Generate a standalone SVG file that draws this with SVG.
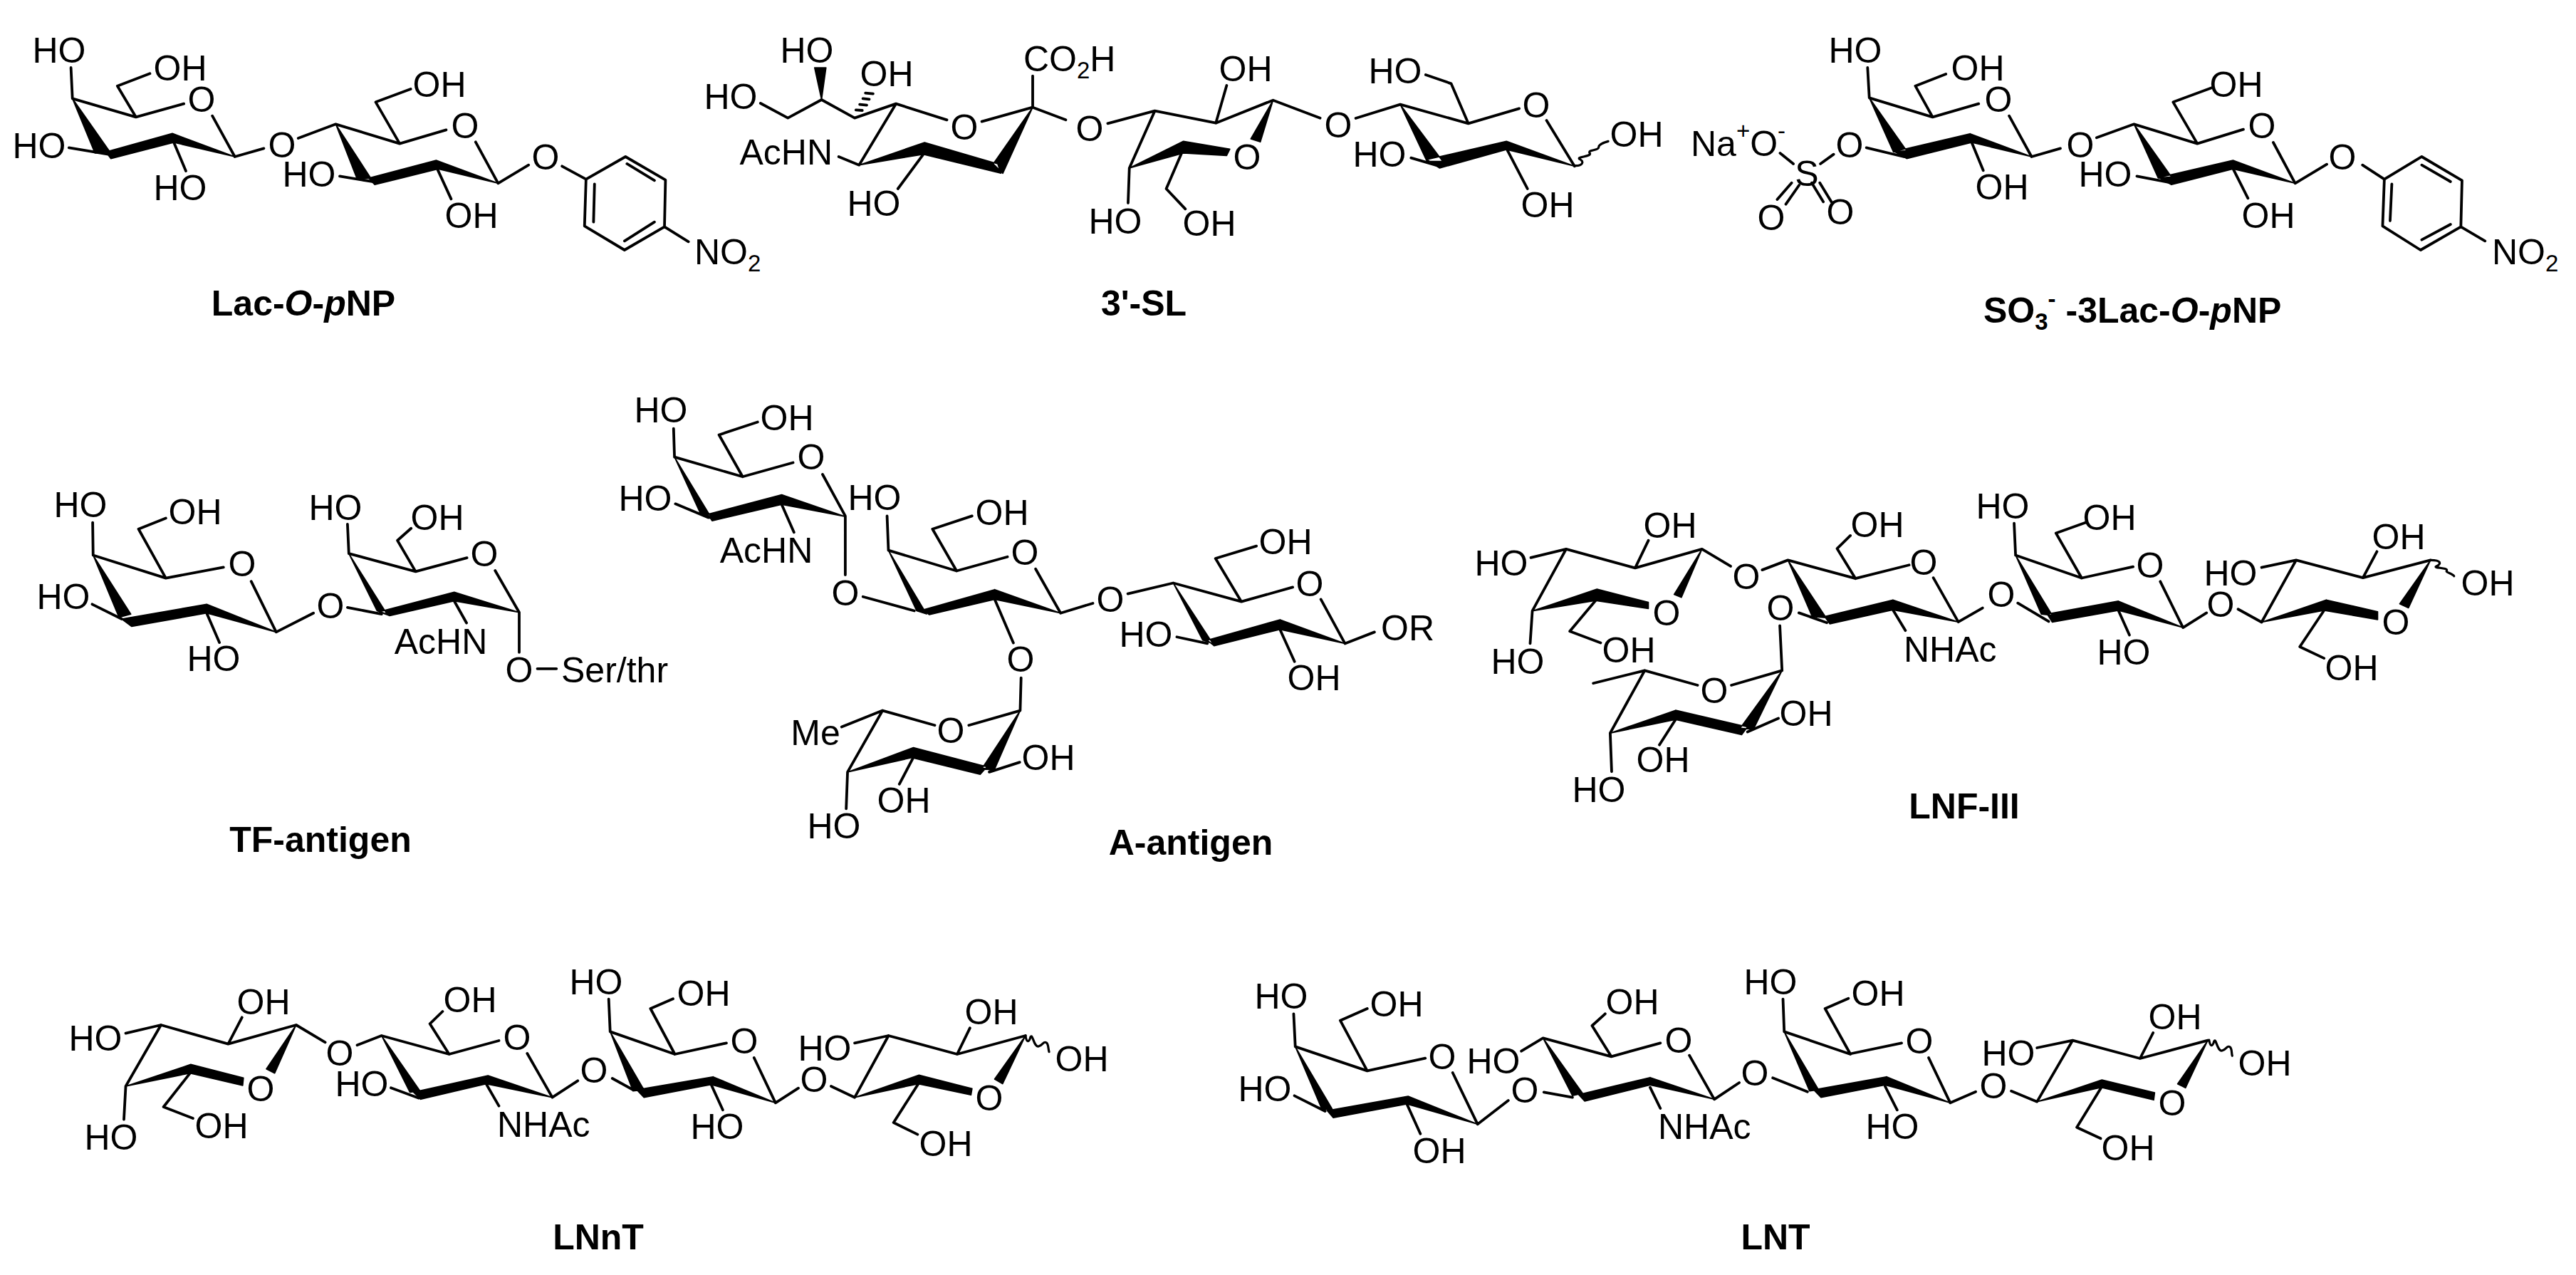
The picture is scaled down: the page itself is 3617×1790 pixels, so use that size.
<svg xmlns="http://www.w3.org/2000/svg" width="3617" height="1790" viewBox="0 0 3617 1790">
<style>
text{font-family:"Liberation Sans",Arial,sans-serif;font-size:50px;fill:#000;text-anchor:middle}
.s{text-anchor:start}
.e{text-anchor:end}
.c{font-weight:bold}
.u{font-size:33px}
.b{fill:none;stroke:#000;stroke-width:3.8;vector-effect:non-scaling-stroke;stroke-linejoin:round;stroke-linecap:round}
.v{fill:none;stroke:#000;stroke-width:3.2;vector-effect:non-scaling-stroke;stroke-linecap:round}
.w{fill:#000;stroke:#000;stroke-width:1.6;vector-effect:non-scaling-stroke;stroke-linejoin:round}
</style>
<rect width="3617" height="1790" fill="#fff"/>

<g id="lac-o-pnp">
<g id="lac-bonds" transform="scale(0.7015 0.33333)">
<path class="b" d="M142 285L145 415L272 493L235 362L300 310M272 493L368 437M425 488L470 660L528 625M348 600L372 720M217 650L138 622M597 582L672 523L800 605L752 430L822 375M800 605L893 547M952 598L997 772L1058 695M680 742L745 765M875 710L903 838M1125 700L1173 755L1252 660L1332 758L1330 955L1250 1053L1170 952L1173 755M1255 690L1310 760M1190 775L1188 935M1310 935L1250 1015M1330 955L1378 1018"/>
<path class="w" d="M145 415L190 645L220 640ZM212 640L345 562L348 600L222 668ZM345 562L348 600L470 660ZM672 523L715 755L742 750ZM738 750L873 675L877 712L750 778ZM873 675L877 712L997 772Z"/>
</g>
<text x="83" y="88">HO</text><text x="253" y="113">OH</text><text x="283" y="157">O</text><text x="55" y="222">HO</text><text x="253" y="281">HO</text><text x="396" y="221">O</text><text x="617" y="136">OH</text><text x="653" y="194">O</text><text x="434" y="262">HO</text><text x="662" y="320">OH</text><text x="766" y="238">O</text>
<text class="s" x="975" y="371">NO<tspan class="u" dy="10">2</tspan></text>
<text class="c" x="426" y="443">Lac-<tspan font-style="italic">O</tspan>-<tspan font-style="italic">p</tspan>NP</text>
</g>

<g id="sl-3">
<g id="sl-bonds" transform="translate(950 0) scale(0.8929 0.33333)">
<path class="b" d="M132 435L175 497L228 420L280 497L345 437L425 505M480 512L560 452L560 320M560 452L612 505M678 520L752 467L848 518L865 360M848 518L938 422L1012 497M1068 498L1138 440L1245 520L1218 352L1178 315M1245 520L1325 457M1368 507L1412 700M1305 625L1338 795M1200 700L1155 665M345 437L287 695L255 660M388 650L348 795M752 467L712 708L710 855M795 640L770 795L800 880M282 463L292 465M288 440L299 443M293 415L303 418M297 392L309 395"/>
<path class="v" d="M1412 698C1425 700 1428 680 1420 670C1414 660 1440 660 1436 645C1432 630 1450 635 1450 620C1450 610 1458 600 1465 595"/>
<path class="w" d="M228 420L217 285L235 285ZM287 695L390 600L388 650ZM390 600L505 690L510 730L388 650ZM560 452L498 690L513 730ZM712 708L797 595L797 645ZM797 595L870 628L865 655L797 645ZM938 422L903 585L918 598ZM1138 440L1180 680L1205 680ZM1180 672L1305 595L1305 630L1200 708ZM1305 595L1305 630L1412 700Z"/>
</g>
<text x="1026" y="153">HO</text><text x="1133" y="88">HO</text><text x="1245" y="121">OH</text><text class="e" x="1169" y="231">AcHN</text><text x="1227" y="303">HO</text><text x="1354" y="196">O</text>
<text class="s" x="1437" y="100">CO<tspan class="u" dy="10">2</tspan><tspan dy="-10">H</tspan></text>
<text x="1530" y="198">O</text><text x="1749" y="114">OH</text><text x="1959" y="117">HO</text><text x="2157" y="165">O</text><text x="2298" y="206">OH</text><text x="1937" y="234">HO</text><text x="1879" y="193">O</text><text x="2173" y="305">OH</text><text x="1566" y="328">HO</text><text x="1698" y="331">OH</text><text x="1751" y="238">O</text>
<text class="c" x="1606" y="443">3'-SL</text>
</g>

<g id="so3-lac-o-pnp">
<g id="so3-bonds" transform="translate(2350 0) scale(0.808 0.33333)">
<path class="b" d="M337 285L340 412L450 493L420 362L473 312M450 493L530 437M583 488L622 660L672 625M518 600L538 718M335 622L400 660M255 690L278 650M185 645L208 690M205 770L180 840M218 780L195 860M240 770L260 850M254 770L274 850M735 580L800 523L910 605L868 430L935 370M910 605L990 545M1042 600L1080 772L1135 692M972 710L998 835M805 742L865 770M1197 695L1235 755L1300 660L1370 760L1368 955L1298 1053L1232 952L1235 755M1300 695L1350 765M1248 775L1245 930M1350 945L1300 1010M1368 955L1410 1015"/>
<path class="w" d="M340 412L382 640L405 635ZM383 638L515 563L518 600L405 668ZM515 563L518 600L622 660ZM800 523L842 750L865 745ZM843 748L972 675L972 712L865 778ZM972 675L972 712L1080 772Z"/>
</g>
<text x="2605" y="88">HO</text><text x="2777" y="113">OH</text><text x="2806" y="157">O</text><text x="2597" y="221">O</text><text x="2811" y="280">OH</text><text x="2921" y="221">O</text><text x="3140" y="136">OH</text><text x="3176" y="194">O</text><text x="2956" y="262">HO</text><text x="3185" y="320">OH</text><text x="3289" y="238">O</text>
<text class="s" x="3499" y="371">NO<tspan class="u" dy="10">2</tspan></text>
<text x="2537" y="261">S</text><text x="2487" y="323">O</text><text x="2584" y="315">O</text>
<text class="s" x="2374" y="219">Na<tspan class="u" dy="-24">+</tspan><tspan dy="24">O</tspan><tspan class="u" dy="-24">-</tspan></text>
<text class="c s" x="2785" y="453">SO<tspan class="u" dy="10">3</tspan><tspan class="u" dy="-32">-</tspan><tspan dy="22"> -3Lac-</tspan><tspan font-style="italic">O</tspan>-<tspan font-style="italic">p</tspan>NP</text>
</g>

<g id="tf-antigen">
<g id="tf-bonds" transform="translate(0 520) scale(0.6378 0.4592)">
<path class="b" d="M204 465L205 565L365 635L305 485L365 452M365 635L492 602M553 645L608 800L690 742M203 715L268 760M455 742L483 832M765 725L840 745M765 470L768 560L915 615L875 520L905 483M915 615L1028 573M1090 612L1143 740L1143 862M1000 705L1027 772M1183 912L1225 912"/>
<path class="w" d="M205 565L262 755L288 745ZM268 760L455 715L455 742L290 783ZM455 715L455 742L608 800ZM768 560L830 735L852 745ZM835 738L1000 678L1000 705L858 750ZM1000 678L1000 705L1143 740Z"/>
</g>
<text x="113" y="726">HO</text><text x="274" y="736">OH</text><text x="340" y="809">O</text><text x="89" y="855">HO</text><text x="300" y="942">HO</text><text x="464" y="868">O</text><text x="471" y="730">HO</text><text x="614" y="744">OH</text><text x="680" y="795">O</text><text x="619" y="918">AcHN</text><text x="729" y="958">O</text><text class="s" x="788" y="958">Ser/thr</text>
<text class="c" x="450" y="1196">TF-antigen</text>
</g>

<g id="a-antigen">
<g id="a-bonds" transform="translate(1000 520) scale(0.6378 0.4592)">
<path class="b" d="M-85 178L-83 265L67 325L15 197L100 158M67 325L178 282M243 318L293 445L293 625M153 410L180 495M-81 408L-8 450M332 692L445 735M385 445L388 550L538 613L485 485L572 445M538 613L650 570M712 607L767 742L838 712M622 700L663 833M680 940L678 1040L565 1085M915 683L1015 650L1165 707L1108 575L1198 537M1165 707L1278 663M1340 700L1393 835L1458 800M1023 815L1090 835M1250 792L1282 890M490 1085L375 1040L285 1090M375 1040L298 1228L295 1340M610 1228L677 1198M443 1183L412 1265"/>
<path class="w" d="M-83 265L-25 440L0 455ZM-10 440L153 380L153 410L0 460ZM153 380L153 410L293 447ZM388 550L450 735L472 745ZM465 732L622 670L622 700L478 747ZM622 670L622 700L767 742ZM1015 650L1080 825L1102 835ZM1090 825L1250 762L1250 792L1105 842ZM1250 762L1250 792L1393 835ZM298 1228L443 1153L443 1183ZM443 1153L605 1212L590 1235L443 1185ZM678 1040L595 1215L620 1225Z"/>
</g>
<text x="928" y="593">HO</text><text x="906" y="717">HO</text><text x="1105" y="604">OH</text><text x="1139" y="659">O</text><text x="1076" y="790">AcHN</text><text x="1228" y="716">HO</text><text x="1407" y="737">OH</text><text x="1439" y="793">O</text><text x="1187" y="850">O</text><text x="1559" y="859">O</text><text x="1805" y="778">OH</text><text x="1839" y="837">O</text><text x="1609" y="908">HO</text><text class="s" x="1939" y="899">OR</text><text x="1845" y="969">OH</text><text x="1433" y="943">O</text><text x="1145" y="1046">Me</text><text x="1335" y="1043">O</text><text x="1472" y="1081">OH</text><text x="1269" y="1141">OH</text><text x="1171" y="1177">HO</text>
<text class="c" x="1672" y="1200">A-antigen</text>
</g>

<g id="lnf-iii">
<g id="lnf-bonds" transform="translate(2000 640) scale(1.0312 0.3444)">
<path class="b" d="M145 415L193 380L287 457L305 345M287 457L378 380L417 450M193 380L147 632L144 765M233 590L198 715L240 762M460 465L495 425L587 500L562 378L580 325M587 500L660 445M693 497L727 677L760 620M510 640L548 680M638 628L655 712M484 692L487 875L418 935M372 935L300 875L230 927M300 875L253 1130L255 1287M440 1125L482 1070M342 1075L320 1178M805 405L803 275M805 405L895 498L860 315L900 272M895 498L965 452M1002 512L1033 700L1065 640M808 600L850 675M945 630L960 730M1108 625L1140 678L1187 425L1140 455M1187 425L1278 497L1297 390M1278 497L1370 425M1225 630L1192 778L1225 825"/>
<path class="v" d="M1370 425C1385 425 1385 440 1378 450C1372 458 1395 455 1392 468C1390 475 1400 480 1402 490"/>
<path class="w" d="M378 380L340 565L350 577ZM147 632L235 543L233 590ZM235 543L305 597L305 623L233 590ZM495 425L528 655L547 660ZM545 655L638 587L638 628L552 685ZM638 587L638 628L727 677ZM253 1130L342 1037L342 1075ZM342 1037L440 1105L432 1137L342 1075ZM487 875L430 1110L448 1115ZM805 405L840 645L855 650ZM848 645L945 592L945 630L855 678ZM945 592L945 630L1033 700ZM1370 425L1328 603L1340 620ZM1140 678L1228 587L1225 630ZM1228 587L1298 635L1298 668L1225 630Z"/>
</g>
<text x="2108" y="808">HO</text><text x="2345" y="755">OH</text><text x="2452" y="827">O</text><text x="2340" y="878">O</text><text x="2287" y="930">OH</text><text x="2131" y="946">HO</text><text x="2500" y="871">O</text><text x="2636" y="754">OH</text><text x="2701" y="807">O</text><text class="s" x="2673" y="929">NHAc</text><text x="2810" y="852">O</text><text x="2407" y="987">O</text><text x="2536" y="1019">OH</text><text x="2335" y="1084">OH</text><text x="2245" y="1126">HO</text><text x="2812" y="728">HO</text><text x="2962" y="744">OH</text><text x="3019" y="811">O</text><text x="2982" y="933">HO</text><text x="3118" y="866">O</text><text x="3132" y="822">HO</text><text x="3368" y="771">OH</text><text x="3493" y="836">OH</text><text x="3364" y="891">O</text><text x="3302" y="955">OH</text>
<text class="c" x="2758" y="1149">LNF-III</text>
</g>

<g id="lnnt">
<g id="lnnt-bonds-a" transform="translate(50 1330) scale(0.5102 0.33333)">
<path class="b" d="M248 362L345 327L530 407L568 295M530 407L717 327L797 400M345 327L248 585L243 725M425 530L352 672L433 720M885 412L952 372L1138 450L1085 322L1120 270M1138 450L1275 393M1353 447L1422 632L1492 562M978 592L1055 635M1240 575L1275 668"/>
<path class="w" d="M717 327L635 512L658 530ZM248 585L427 493L425 530ZM427 493L572 550L570 582L425 530ZM952 372L1030 610L1058 605ZM1040 610L1245 540L1240 575L1060 640ZM1245 540L1240 575L1422 632Z"/>
</g>
<g id="lnnt-bonds-b" transform="translate(820 1330) scale(0.5102 0.33333)">
<path class="b" d="M78 552L135 600M68 218L72 355L250 450L183 258L245 217M250 450L392 403M468 465L527 655L590 593M350 578L382 685M680 585L745 632L838 372L745 403M838 372L1027 450L1062 340M1027 450L1215 372M920 575L852 738L918 788"/>
<path class="v" d="M1215 372C1218 402 1225 402 1229 377C1235 362 1238 422 1251 417C1264 412 1264 392 1273 402C1279 410 1277 427 1280 440"/>
<path class="w" d="M72 355L135 605L165 600ZM145 600L355 545L350 578L165 632ZM355 545L350 578L527 655ZM1215 372L1130 555L1152 575ZM745 632L922 538L920 575ZM922 538L1068 595L1065 622L920 575Z"/>
</g>
<text x="134" y="1475">HO</text><text x="370" y="1424">OH</text><text x="366" y="1546">O</text><text x="311" y="1598">OH</text><text x="156" y="1614">HO</text><text x="477" y="1496">O</text><text x="508" y="1539">HO</text><text x="660" y="1421">OH</text><text x="726" y="1474">O</text><text class="s" x="698" y="1596">NHAc</text><text x="834" y="1520">O</text><text x="837" y="1396">HO</text><text x="988" y="1412">OH</text><text x="1045" y="1479">O</text><text x="1007" y="1599">HO</text><text x="1143" y="1533">O</text><text x="1158" y="1489">HO</text><text x="1392" y="1438">OH</text><text x="1519" y="1504">OH</text><text x="1389" y="1559">O</text><text x="1328" y="1623">OH</text>
<text class="c" x="840" y="1754">LNnT</text>
</g>

<g id="lnt">
<g id="lnt-bonds-a" transform="translate(1720 1330) scale(0.574 0.33333)">
<path class="b" d="M168 280L172 418L348 520L282 308L348 258M348 520L490 467M557 528L618 745L693 645M170 625L245 690M445 660L478 785M725 437L778 382L945 460L898 330L930 280M780 610L850 632M945 460L1065 403M1136 455L1197 640L1258 570M1040 590L1065 678M1340 550L1425 608M1365 218L1368 355L1530 450L1468 258L1525 215"/>
<path class="w" d="M172 418L238 685L262 680ZM250 688L448 627L445 660L265 718ZM448 627L445 660L618 745ZM778 382L850 625L875 615ZM865 620L1040 548L1040 580L880 648ZM1040 548L1040 580L1197 640ZM1368 355L1430 605L1452 600ZM1440 600L1618 545L1615 580L1458 632Z"/>
</g>
<g id="lnt-bonds-b" transform="translate(2600 1330) scale(0.4464 0.33333)">
<path class="b" d="M0 447L157 403M242 465L310 655L390 608M105 585L143 685M502 605L583 650L695 392L583 423M695 392L907 468L948 360M907 468L1120 392M785 590L708 758L783 805"/>
<path class="v" d="M1124 390C1128 420 1135 420 1140 395C1146 380 1150 440 1165 435C1180 430 1180 410 1190 420C1197 428 1194 445 1197 457"/>
<path class="w" d="M110 545L105 580L310 655ZM1120 392L1025 575L1050 592ZM583 650L787 558L785 590ZM787 558L953 612L950 643L785 590Z"/>
</g>
<text x="1799" y="1416">HO</text><text x="1961" y="1427">OH</text><text x="2025" y="1501">O</text><text x="1776" y="1546">HO</text><text x="2021" y="1633">OH</text><text x="2141" y="1548">O</text><text x="2097" y="1507">HO</text><text x="2292" y="1424">OH</text><text x="2357" y="1478">O</text><text class="s" x="2328" y="1599">NHAc</text><text x="2464" y="1524">O</text><text x="2486" y="1396">HO</text><text x="2637" y="1412">OH</text><text x="2695" y="1479">O</text><text x="2657" y="1599">HO</text><text x="2799" y="1542">O</text><text x="2820" y="1496">HO</text><text x="3054" y="1445">OH</text><text x="3050" y="1566">O</text><text x="3180" y="1510">OH</text><text x="2988" y="1629">OH</text>
<text class="c" x="2493" y="1754">LNT</text>
</g>
</svg>
